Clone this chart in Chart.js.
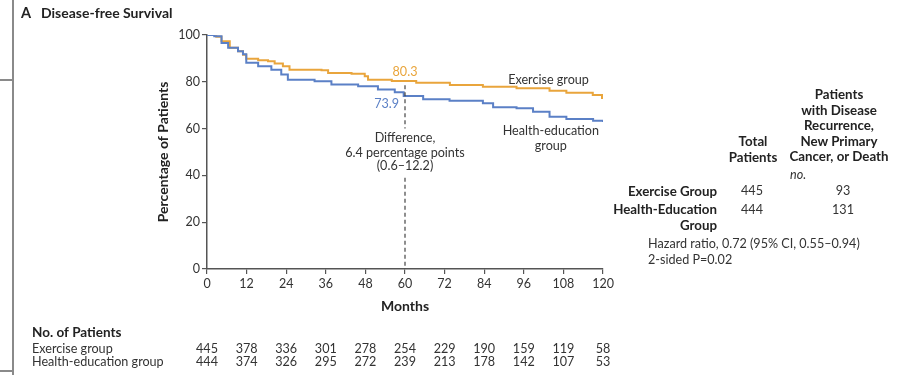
<!DOCTYPE html>
<html>
<head>
<meta charset="utf-8">
<script src="https://cdn.jsdelivr.net/npm/chart.js@4.4.1/dist/chart.umd.min.js"></script>
<style>
  body { margin: 0; background: #fff; font-family: Lato, "Open Sans", sans-serif; color: #333; }
  #wrap { position: relative; width: 897px; height: 375px; overflow: hidden; }
  #chart { position: absolute; left: 0; top: 0; }
  .t { position: absolute; font-size: 12.6px; line-height: 16px; white-space: nowrap; }
  .b { font-weight: bold; color: #222; font-size: 13.3px; }
  .rule { position: absolute; background: #8a8a8a; }
</style>
</head>
<body>
<div id="wrap">
  <canvas id="chart" width="897" height="375"></canvas>

  <div class="rule" style="left:12px;top:0;width:1.5px;height:375px"></div>
  <div class="rule" style="left:0;top:79px;width:13px;height:1.5px"></div>
  <div class="rule" style="left:0;top:370px;width:13px;height:1.5px"></div>

  <div class="t b" style="left:21px;top:5px;font-size:14.5px">A</div>
  <div class="t b" style="left:41px;top:5px;font-size:14px">Disease-free Survival</div>

  <div class="t b" style="left:779px;top:87px;width:120px;text-align:center;line-height:15.5px">Patients<br>with Disease<br>Recurrence,<br>New Primary<br>Cancer, or Death</div>
  <div class="t b" style="left:713px;top:134px;width:80px;text-align:center;line-height:15.5px">Total<br>Patients</div>
  <div class="t" style="left:790px;top:167px;font-style:italic">no.</div>

  <div class="t b" style="left:577px;top:183px;width:140px;text-align:right">Exercise Group</div>
  <div class="t" style="left:732px;top:183px;width:40px;text-align:center">445</div>
  <div class="t" style="left:823px;top:183px;width:40px;text-align:center">93</div>

  <div class="t b" style="left:577px;top:202px;width:140px;text-align:right;line-height:15.5px">Health-Education<br>Group</div>
  <div class="t" style="left:732px;top:202px;width:40px;text-align:center">444</div>
  <div class="t" style="left:823px;top:202px;width:40px;text-align:center">131</div>

  <div class="t" style="left:648px;top:236px">Hazard ratio, 0.72 (95% CI, 0.55–0.94)</div>
  <div class="t" style="left:648px;top:252px">2-sided P=0.02</div>
</div>

<script>
// Kaplan-Meier curves (month, % disease-free)
const exerciseMonths = [0, 2.8, 4.4, 6.9, 9.4, 10.9, 11.9, 15.5, 18.5, 20.5, 23, 25, 34.7, 36.7, 43.8, 47.8, 48.8, 56, 63.4, 73.6, 83.6, 93.8, 103.8, 108.9, 116.9, 119.7, 120];
const exerciseValues = [100, 99.3, 97.3, 94.5, 93.1, 91.6, 89.8, 89.2, 88.8, 87.8, 86.6, 85.2, 84.9, 83.8, 83.4, 82.4, 80.9, 80.3, 79.6, 78.6, 77.9, 77.2, 76.2, 75.3, 74.4, 73.1, 73.1];

const healthMonths = [0, 2.2, 4.4, 6.4, 9.4, 10.9, 11.9, 15.5, 19.5, 22.5, 24.5, 32.6, 37.7, 45.8, 51.8, 56.9, 59.6, 65.5, 73.5, 83.6, 86.7, 93.8, 98.8, 103.8, 108.9, 117, 120];
const healthValues = [100, 99.5, 96.6, 94.5, 93.1, 91.8, 88.1, 86.6, 85.2, 83.1, 80.9, 80.2, 78.8, 78.1, 76.7, 75.5, 73.9, 72.5, 71.9, 70.8, 69.1, 68.7, 67.2, 65.1, 64.1, 63.4, 62.8];

const tickMonths = [0, 12, 24, 36, 48, 60, 72, 84, 96, 108, 120];
const atRiskExercise = [445, 378, 336, 301, 278, 254, 229, 190, 159, 119, 58];
const atRiskHealth = [444, 374, 326, 295, 272, 239, 213, 178, 142, 107, 53];

const orange = '#e9a53c';
const blue = '#5b80c6';
const ink = '#333';
const axisColor = '#555';
const font = 'Lato, "Open Sans", sans-serif';

const toPoints = (xs, ys) => xs.map((x, i) => ({ x: x, y: ys[i] }));

// annotations, at-risk table and the 60-month marker
const extras = {
  id: 'extras',
  afterDatasetsDraw(chart) {
    const ctx = chart.ctx;
    const x = chart.scales.x, y = chart.scales.y;
    const px = v => x.getPixelForValue(v);
    const py = v => y.getPixelForValue(v);
    ctx.save();

    // dashed line at 60 months
    ctx.strokeStyle = '#444';
    ctx.lineWidth = 1.2;
    ctx.setLineDash([4, 3]);
    ctx.beginPath();
    ctx.moveTo(px(60), py(78.5)); ctx.lineTo(px(60), py(60));
    ctx.moveTo(px(60), py(39)); ctx.lineTo(px(60), py(0));
    ctx.stroke();
    ctx.setLineDash([]);

    ctx.textBaseline = 'middle';
    ctx.font = '12.6px ' + font;
    ctx.textAlign = 'center';
    ctx.fillStyle = orange;
    ctx.fillText('80.3', px(60), py(84.3));
    ctx.fillStyle = blue;
    ctx.textAlign = 'right';
    ctx.fillText('73.9', px(58.2), py(70.5));

    ctx.fillStyle = ink;
    ctx.textAlign = 'center';
    ctx.fillText('Difference,', px(60), py(56.2));
    ctx.fillText('6.4 percentage points', px(60), py(49.8));
    ctx.fillText('(0.6–12.2)', px(60), py(44.1));

    ctx.fillText('Exercise group', px(103.5), py(80.7));
    ctx.fillText('Health-education', px(104.2), py(58.9));
    ctx.fillText('group', px(104.2), py(52.5));

    // number at risk
    const rowY = [349, 362];
    ctx.textAlign = 'left';
    ctx.font = 'bold 13.5px ' + font;
    ctx.fillStyle = '#222';
    ctx.fillText('No. of Patients', 32, 333);
    ctx.font = '12.6px ' + font;
    ctx.fillStyle = ink;
    ctx.fillText('Exercise group', 32, rowY[0]);
    ctx.fillText('Health-education group', 32, rowY[1]);
    ctx.textAlign = 'center';
    tickMonths.forEach((m, i) => {
      ctx.fillText(String(atRiskExercise[i]), px(m), rowY[0]);
      ctx.fillText(String(atRiskHealth[i]), px(m), rowY[1]);
    });
    ctx.restore();
  }
};

new Chart(document.getElementById('chart'), {
  type: 'line',
  data: {
    datasets: [
      {
        label: 'Health-education group',
        data: toPoints(healthMonths, healthValues),
        borderColor: blue,
        borderWidth: 2,
        stepped: true,
        pointRadius: 0,
        fill: false
      },
      {
        label: 'Exercise group',
        data: toPoints(exerciseMonths, exerciseValues),
        borderColor: orange,
        borderWidth: 2,
        stepped: true,
        pointRadius: 0,
        fill: false
      }
    ]
  },
  options: {
    responsive: false,
    animation: false,
    layout: { padding: { left: 151, top: 35, right: 294, bottom: 56 } },
    plugins: { legend: { display: false }, tooltip: { enabled: false } },
    scales: {
      x: {
        type: 'linear',
        min: 0, max: 120,
        afterFit: s => { s.height = 50; },
        afterBuildTicks: s => { s.ticks = tickMonths.map(v => ({ value: v })); },
        ticks: { color: ink, font: { family: font, size: 12.5 }, padding: 2, maxRotation: 0 },
        grid: { drawOnChartArea: false, drawTicks: true, tickLength: 5, color: axisColor, lineWidth: 1.2 },
        border: { color: axisColor, width: 1.5 },
        title: { display: true, text: 'Months', color: '#222', font: { family: font, size: 14, weight: 'bold' } }
      },
      y: {
        min: 0, max: 100,
        afterFit: s => { s.width = 56; },
        ticks: { stepSize: 20, color: ink, font: { family: font, size: 12.5 }, padding: 2 },
        grid: { drawOnChartArea: false, drawTicks: true, tickLength: 5, color: axisColor, lineWidth: 1.2 },
        border: { color: axisColor, width: 1.5 },
        title: { display: true, text: 'Percentage of Patients', color: '#222', font: { family: font, size: 14, weight: 'bold' } }
      }
    }
  },
  plugins: [extras]
});
</script>
</body>
</html>
